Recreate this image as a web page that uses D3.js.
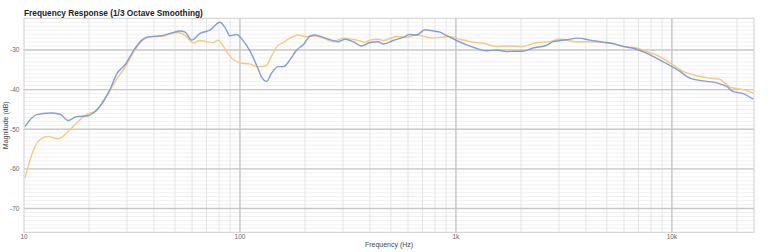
<!DOCTYPE html>
<meta charset="utf-8">
<style>

body {
  margin: 0;
  background: #fff;
}

text {
  font-family: "Liberation Sans", Arial, sans-serif;
}

.tick-label {
  font-size: 6.5px;
  fill: #666;
}

.axis-title {
  font-size: 7px;
  fill: #444;
}

.title {
  font-size: 8.3px;
  font-weight: bold;
  fill: #222;
}

.line {
  fill: none;
  stroke-width: 1.4;
  stroke-linejoin: round;
}

</style>
<script src="https://d3js.org/d3.v7.min.js"></script>
<svg width="770" height="252"></svg>
<script>

  // blue trace
  var blueFreq = [10.1, 11.45, 13.2, 14.7, 16.0, 17.5, 19.8, 20.9, 22.5, 25.0, 26.9, 29.4, 32.1, 35.1, 37.6, 41.2, 44.2, 47.4, 52.8, 55.7,
    59.8, 65.3, 72.6, 80.8, 85.2, 89.9, 96.5, 103.6, 111.2, 119.5, 126.1, 132.9, 140.2, 150.4, 158.7, 170.4, 183, 196.4, 211, 222.5,
    243, 265.8, 285.2, 306.3, 334.6, 366, 400, 437, 461, 512, 570, 612, 658, 719, 785, 843, 906, 1007, 1121, 1247,
    1387, 1543, 1717, 1876, 2049, 2280, 2630, 2821, 3254, 3684, 4173, 4808, 5348, 5951, 6865, 7637, 8497, 9789, 10890, 12120,
    13960, 16100, 17920, 19220, 21390, 23790];
  var blueDb = [-49.3, -46.3, -45.9, -46.2, -47.8, -46.8, -46.6, -45.9, -44.2, -40.0, -36.0, -33.7, -30.2, -27.5, -26.7, -26.5, -26.3, -25.8, -25.2, -25.5,
    -27.5, -25.8, -25.0, -23.0, -24.3, -26.4, -26.1, -27.7, -30.2, -33.9, -36.9, -37.9, -35.8, -34.2, -34.2, -32.5, -30.0, -28.7, -26.5, -26.2,
    -26.8, -27.5, -27.9, -27.3, -27.9, -29.0, -28.1, -27.9, -28.5, -27.6, -26.8, -26.1, -26.2, -24.9, -25.2, -25.5, -26.4, -27.6, -28.7, -29.6,
    -30.2, -30.0, -30.4, -30.3, -30.3, -29.5, -28.8, -27.9, -27.4, -27.0, -27.5, -28.0, -28.4, -29.1, -29.8, -30.8, -32.1, -33.9, -35.4, -37.1,
    -37.8, -38.3, -39.2, -40.5, -41.0, -42.4];

  // orange trace
  var orangeFreq = [10.1, 11.0, 11.86, 12.96, 14.4, 15.8, 17.5, 19.5, 21.7, 23.3, 25.0, 26.9, 29.4, 32.1, 35.1, 37.6, 41.2, 44.2, 47.4, 51.6,
    55.7, 60.8, 65.3, 70.1, 75.2, 79.4, 82.5, 86.8, 93.1, 103.6, 111.2, 119.5, 126.5, 132.9, 140.2, 147.9, 158.7, 170.4, 186.2, 200,
    211, 222.5, 243, 270.4, 300.8, 347, 379, 400, 437, 461, 531, 591, 658, 706, 772, 843, 938, 1043, 1161, 1338,
    1543, 1717, 2049, 2364, 2724, 3030, 3622, 4321, 5164, 5951, 6865, 7637, 8497, 9789, 11280, 13020, 14990, 16680, 18560, 21390,
    23790];
  var orangeDb = [-62.3, -55.6, -52.6, -51.8, -52.4, -50.9, -48.4, -46.3, -45.3, -42.8, -40.3, -37.3, -34.3, -30.6, -27.7, -26.8, -26.6, -26.5, -26.0, -25.6,
    -26.3, -28.2, -27.6, -27.9, -28.1, -27.5, -28.5, -30.4, -32.4, -33.4, -33.5, -34.2, -34.2, -33.8, -31.5, -29.2, -28.1, -27.0, -26.2, -26.6,
    -26.5, -26.5, -27.0, -27.9, -27.0, -27.5, -28.0, -27.5, -27.3, -27.6, -26.6, -26.8, -26.2, -26.5, -27.0, -26.8, -26.6, -27.3, -27.9, -28.3,
    -29.1, -29.0, -29.1, -28.1, -27.9, -27.3, -27.9, -27.9, -28.3, -29.1, -29.5, -30.4, -31.3, -33.2, -35.4, -36.5, -37.1, -37.4, -39.4, -40.0,
    -40.9];

  var xTicks = [10, 100, 1000, 10000];
  var xTickLabels = ["10", "100", "1k", "10k"];
  var yTicks = [-70, -60, -50, -40, -30];

  var svg = d3.select("svg");
  var plotLeft = 24, plotRight = 754, plotTop = 18.3, plotBottom = 232.3;

  var x = d3.scaleLog().domain([10, 24000]).range([plotLeft, plotRight]);
  var y = d3.scaleLinear().domain([-76, -22]).range([plotBottom, plotTop]);

  var grid = svg.append("g");

  // minor horizontal lines, every dB
  grid.selectAll(".hminor")
    .data(d3.range(-75, -22, 1))
    .enter().append("line")
      .attr("x1", plotLeft).attr("x2", plotRight)
      .attr("y1", function(d) { return y(d); })
      .attr("y2", function(d) { return y(d); })
      .attr("stroke", "#ececec")
      .attr("stroke-width", 0.8);

  // minor vertical lines
  grid.selectAll(".vminor")
    .data(x.ticks().filter(function(d) { return xTicks.indexOf(d) < 0; }))
    .enter().append("line")
      .attr("x1", function(d) { return x(d); })
      .attr("x2", function(d) { return x(d); })
      .attr("y1", plotTop).attr("y2", plotBottom)
      .attr("stroke", "#e2e2e2")
      .attr("stroke-width", 0.9);

  // major horizontal lines
  grid.selectAll(".hmajor")
    .data(yTicks)
    .enter().append("line")
      .attr("x1", plotLeft).attr("x2", plotRight)
      .attr("y1", function(d) { return y(d); })
      .attr("y2", function(d) { return y(d); })
      .attr("stroke", "#c8c8c8")
      .attr("stroke-width", 1.3);

  // major vertical lines
  grid.selectAll(".vmajor")
    .data(xTicks.slice(1))
    .enter().append("line")
      .attr("x1", function(d) { return x(d); })
      .attr("x2", function(d) { return x(d); })
      .attr("y1", plotTop).attr("y2", plotBottom)
      .attr("stroke", "#c0c0c0")
      .attr("stroke-width", 1.3);

  grid.append("rect")
    .attr("x", plotLeft).attr("y", plotTop)
    .attr("width", plotRight - plotLeft).attr("height", plotBottom - plotTop)
    .attr("fill", "none")
    .attr("stroke", "#cfcfcf")
    .attr("stroke-width", 1);

  var line = d3.line()
    .x(function(d) { return x(d[0]); })
    .y(function(d) { return y(d[1]); })
    .curve(d3.curveMonotoneX);

  svg.append("path")
    .datum(d3.zip(orangeFreq, orangeDb))
    .attr("class", "line")
    .attr("stroke", "#f6c97c")
    .attr("d", line);

  svg.append("path")
    .datum(d3.zip(blueFreq, blueDb))
    .attr("class", "line")
    .attr("stroke", "#7393dd")
    .attr("stroke-opacity", 0.9)
    .attr("d", line);

  // tick labels
  svg.selectAll(".ylab")
    .data(yTicks)
    .enter().append("text")
      .attr("class", "tick-label")
      .attr("x", plotLeft - 4.5)
      .attr("y", function(d) { return y(d); })
      .attr("dy", "0.35em")
      .attr("text-anchor", "end")
      .text(function(d) { return d; });

  svg.selectAll(".xlab")
    .data(xTicks)
    .enter().append("text")
      .attr("class", "tick-label")
      .attr("x", function(d) { return x(d); })
      .attr("y", 238.5)
      .attr("text-anchor", "middle")
      .text(function(d, i) { return xTickLabels[i]; });

  svg.append("text")
    .attr("class", "axis-title")
    .attr("x", (plotLeft + plotRight) / 2)
    .attr("y", 246.5)
    .attr("text-anchor", "middle")
    .text("Frequency (Hz)");

  svg.append("text")
    .attr("class", "axis-title")
    .attr("transform", "translate(8," + ((plotTop + plotBottom) / 2) + ") rotate(-90)")
    .attr("text-anchor", "middle")
    .text("Magnitude (dB)");

  svg.append("text")
    .attr("class", "title")
    .attr("x", plotLeft)
    .attr("y", 15.5)
    .text("Frequency Response (1/3 Octave Smoothing)");

</script>
